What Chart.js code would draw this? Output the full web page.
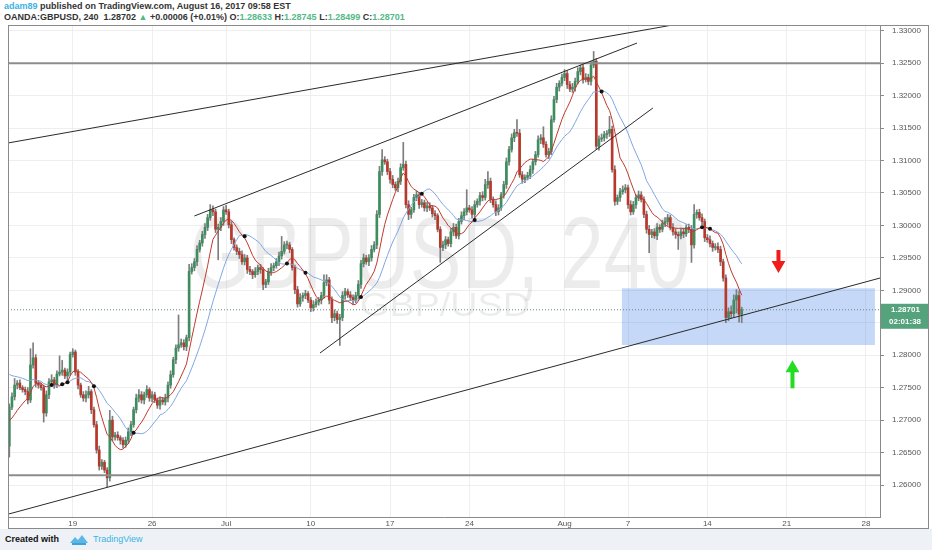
<!DOCTYPE html>
<html>
<head>
<meta charset="utf-8">
<script src="https://cdn.jsdelivr.net/npm/chart.js@4.4.0/dist/chart.umd.min.js"></script>
<style>
  html, body { margin: 0; padding: 0; background: #fff; }
  body { width: 932px; height: 550px; position: relative; overflow: hidden; font-family: "Liberation Sans", Arial, sans-serif; }
  #hdr { position: absolute; left: 4px; top: 1px; font-size: 9px; font-weight: bold; color: #333; line-height: 11px; white-space: nowrap; }
  #hdr .u { color: #3bb3e4; }
  #hdr .g { color: #53b987; }
  #foot { position: absolute; left: 0; top: 529px; width: 932px; height: 21px; background: #eef2f6; }
  #foot .t { position: absolute; left: 5px; top: 5px; font-size: 9px; font-weight: bold; color: #111; }
  #foot .tv { position: absolute; left: 93px; top: 5px; font-size: 9px; color: #3bb3e4; }
  #foot svg { position: absolute; left: 69px; top: 5px; }
  #c { position: absolute; left: 0; top: 0; }
</style>
</head>
<body>
<div id="foot">
  <span class="t">Created with</span>
  <svg width="20" height="11" viewBox="0 0 20 11"><path d="M1 9 L6 3 L9 6 L13 1 L19 9 Z" fill="#5ab7e6"/><path d="M3 10 L17 10" stroke="#3ba3d8" stroke-width="2"/></svg>
  <span class="tv">TradingView</span>
</div>
<div id="hdr">
  <div><span class="u">adam89</span> published on TradingView.com, August 16, 2017 09:58 EST</div>
  <div>OANDA:GBPUSD, 240&nbsp; 1.28702 <span class="g">&#9650;</span> +0.00006 (+0.01%) O:<span class="g">1.28633</span> H:<span class="g">1.28745</span> L:<span class="g">1.28499</span> C:<span class="g">1.28701</span></div>
</div>
<canvas id="c" width="932" height="550"></canvas>
<script>
// GBPUSD 4h candles (close of each bar)
const closes = [
  1.2720,1.2736,1.2754,1.2757,1.2750,1.2747,1.2744,1.2731,1.2785,1.2796,
  1.2757,1.2754,1.2750,1.2711,1.2739,1.2759,1.2762,1.2754,1.2771,1.2774,
  1.2777,1.2768,1.2774,1.2801,1.2805,1.2774,1.2754,1.2739,1.2734,1.2739,
  1.2744,1.2716,1.2693,1.2654,1.2629,1.2635,1.2623,1.2611,1.2700,1.2674,
  1.2677,1.2673,1.2669,1.2662,1.2669,1.2682,1.2693,1.2716,1.2734,1.2739,
  1.2731,1.2739,1.2747,1.2734,1.2739,1.2731,1.2723,1.2731,1.2728,1.2734,
  1.2754,1.2770,1.2793,1.2811,1.2816,1.2819,1.2813,1.2827,1.2929,1.2935,
  1.2944,1.2963,1.2973,1.2986,1.2997,1.3012,1.3024,1.3021,1.2994,1.2997,
  1.3006,1.3024,1.3021,1.3001,1.2978,1.2966,1.2960,1.2955,1.2944,1.2950,
  1.2932,1.2929,1.2924,1.2929,1.2935,1.2932,1.2909,1.2913,1.2929,1.2935,
  1.2938,1.2944,1.2953,1.2960,1.2970,1.2970,1.2963,1.2935,1.2901,1.2879,
  1.2889,1.2892,1.2895,1.2885,1.2873,1.2878,1.2882,1.2885,1.2892,1.2912,
  1.2916,1.2885,1.2858,1.2864,1.2855,1.2858,1.2892,1.2898,1.2893,1.2889,
  1.2885,1.2892,1.2909,1.2941,1.2950,1.2944,1.2950,1.2963,1.2970,1.3017,
  1.3083,1.3101,1.3098,1.3083,1.3071,1.3063,1.3058,1.3068,1.3089,1.3094,
  1.3032,1.3017,1.3024,1.3043,1.3047,1.3032,1.3035,1.3027,1.3030,1.3027,
  1.3018,1.3015,1.2994,1.2966,1.2970,1.2978,1.2972,1.2990,1.2997,1.2984,
  1.3006,1.3015,1.3021,1.3027,1.3024,1.3017,1.3032,1.3037,1.3046,1.3043,
  1.3063,1.3068,1.3040,1.3032,1.3021,1.3027,1.3047,1.3063,1.3098,1.3117,
  1.3135,1.3143,1.3142,1.3078,1.3071,1.3074,1.3077,1.3086,1.3098,1.3109,
  1.3132,1.3135,1.3125,1.3109,1.3114,1.3163,1.3194,1.3213,1.3219,1.3228,
  1.3234,1.3217,1.3210,1.3213,1.3222,1.3237,1.3243,1.3225,1.3228,1.3222,
  1.3247,1.3253,1.3122,1.3133,1.3135,1.3140,1.3142,1.3148,1.3086,1.3037,
  1.3043,1.3052,1.3055,1.3058,1.3032,1.3021,1.3032,1.3043,1.3047,1.3040,
  1.3017,1.2994,1.2986,1.2990,1.2984,1.2997,1.2994,1.3003,1.3006,1.3012,
  1.2997,1.2990,1.2986,1.2984,1.2990,1.2987,1.2997,1.2994,1.2970,1.3017,
  1.3020,1.3012,1.3006,1.2981,1.2978,1.2972,1.2966,1.2967,1.2963,1.2944,
  1.2919,1.2858,1.2867,1.2864,1.2885,1.2892,1.2863,1.2870
];
const firstOpen = 1.2660;
// wick lengths in pips above / below the body
const upWick = [
  5,6,10,4,5,3,4,6,25,23, 5,4,3,4,6,5,8,4,5,25, 15,3,5,4,5,3,4,3,5,6,
  8,3,4,5,6,4,3,4,15,6, 4,5,3,4,5,6,5,4,6,8, 5,4,6,3,5,4,3,5,4,6,
  5,6,4,5,46,6,5,4,11,6, 5,6,4,5,6,5,8,6,4,5, 6,5,7,4,5,3,4,5,6,5,
  4,5,3,6,4,5,3,4,5,6, 4,5,6,23,5,6,4,3,4,5, 6,4,5,3,4,6,5,4,5,12,
  8,4,5,6,4,5,6,5,4,5, 4,5,6,5,6,4,5,6,5,6, 8,16,5,4,5,6,4,5,6,34,
  5,6,4,5,6,4,5,4,6,5, 4,5,3,4,6,5,4,5,6,5, 5,6,5,28,4,5,6,4,5,6,
  8,15,5,4,6,5,4,5,6,5, 6,5,20,6,5,4,5,6,4,5, 6,5,17,4,5,6,5,6,4,5,
  6,4,5,6,5,6,4,5,6,5, 6,15,4,5,6,5,4,20,5,6, 4,5,6,5,4,6,5,4,6,5,
  4,5,6,4,5,6,4,5,6,5, 4,6,5,4,5,6,4,5,6,15, 4,5,6,4,5,6,4,5,6,5,
  4,5,6,9,8,9,7,4
];
const downWick = [
  17,4,5,6,3,4,5,6,4,5, 6,5,4,14,5,6,4,5,4,3, 5,4,6,5,4,5,6,4,5,6,
  5,6,4,5,6,5,4,14,5,6, 5,4,6,5,4,5,6,4,5,6, 5,6,4,5,6,4,5,6,4,5,
  6,5,4,6,5,4,5,6,5,4, 5,6,4,5,6,5,4,6,5,47, 5,6,4,5,6,4,5,6,4,5,
  6,5,6,4,5,6,8,5,4,6, 5,4,6,5,4,6,5,4,6,5, 4,6,5,4,6,5,4,5,6,4,
  5,6,8,5,6,40,5,6,4,5, 6,4,5,6,5,4,6,5,4,6, 5,6,4,5,6,5,4,6,5,4,
  5,8,6,4,5,6,4,5,6,4, 5,6,4,23,5,6,4,5,6,4, 5,4,6,5,4,6,5,4,6,5,
  4,6,5,4,6,5,4,5,6,5, 4,6,5,4,6,5,4,5,6,5, 4,6,5,4,6,5,4,5,6,4,
  5,6,4,5,6,4,5,6,4,5, 6,4,5,6,4,5,6,5,4,6, 5,6,4,5,6,5,4,6,5,4,
  5,6,28,5,4,6,5,4,5,6, 4,5,6,21,5,6,4,5,27,5, 6,4,5,6,4,5,6,4,5,6,
  5,8,5,6,6,20,12,13
];
const lastPriceText = '1.28701';
const countdown = '02:01:38';

// axes (x = bar number)
const xMin = -0.5, xMax = 329.3;
const yMin = 1.25507, yMax = 1.33088;
const xTickIdx = [24, 54, 82, 114, 144, 174, 210, 234, 264, 294, 324];
const xTickLabels = ['19', '26', 'Jul', '10', '17', '24', 'Aug', '7', '14', '21', '28'];
const yTicks = [1.26, 1.265, 1.27, 1.275, 1.28, 1.285, 1.29, 1.295, 1.30, 1.305, 1.31, 1.315, 1.32, 1.325, 1.33];

// simple moving averages; bars before the first one are taken at the level shown there
const fastLen = 10, slowLen = 20;
const fastSeed = 1.2697, slowSeed = 1.2773;

// drawings
const levelLines = [1.3250, 1.2615];
const trendLines = [
  [-0.5, 1.3127, 261.5, 1.33165],
  [70.0, 1.30145, 237.4, 1.3281],
  [117.5, 1.28034, 243.4, 1.31809],
  [-0.5, 1.2555, 329.3, 1.29189]
];
const zoneX = [231.6, 327.4];
const zoneY = [1.28157, 1.2903];
const redArrowX = 290.9, redArrowShaft = [1.2962, 1.2944], redArrowHead = 1.2939;
const greenArrowX = 296.2, greenArrowShaft = [1.2749, 1.2777], greenArrowHead = 1.2780;

const opens = closes.map((c, i) => i === 0 ? firstOpen : closes[i - 1]);
const highs = closes.map((c, i) => Math.max(opens[i], c) + upWick[i] / 10000);
const lows = closes.map((c, i) => Math.min(opens[i], c) - downWick[i] / 10000);

function sma(src, len, seed) {
  return src.map((c, i) => {
    let s = 0;
    for (let k = i - len + 1; k <= i; k++) s += k < 0 ? seed : src[k];
    return s / len;
  });
}
const fast = sma(closes, fastLen, fastSeed);
const slow = sma(closes, slowLen, slowSeed);
const crosses = [];
for (let i = 1; i < closes.length; i++) {
  if ((fast[i] - slow[i]) * (fast[i - 1] - slow[i - 1]) < 0) crosses.push({ x: i, y: (fast[i] + slow[i]) / 2 });
}

const UP = '#3e8d5e', DOWN = '#b8392b';
const isUp = closes.map((c, i) => c >= opens[i]);
const lastClose = closes[closes.length - 1];

const seg = (x0, y0, x1, y1, color, width, order, extra) => Object.assign({
  type: 'line', data: [{ x: x0, y: y0 }, { x: x1, y: y1 }],
  borderColor: color, borderWidth: width, pointRadius: 0, fill: false, order
}, extra || {});

const datasets = [
  seg(zoneX[0], zoneY[1], zoneX[1], zoneY[1], 'rgba(0,0,0,0)', 0, 20, { fill: '+1', backgroundColor: 'rgba(74,134,232,0.32)' }),
  seg(zoneX[0], zoneY[0], zoneX[1], zoneY[0], 'rgba(0,0,0,0)', 0, 20),
  seg(xMin, lastClose, xMax, lastClose, '#5f8f78', 1, 15, { borderDash: [1, 2] }),
  {
    type: 'bar', grouped: false, order: 12, barThickness: 1,
    data: closes.map((c, i) => ({ x: i, y: [lows[i], highs[i]] })),
    backgroundColor: '#7d7d80'
  },
  {
    type: 'bar', grouped: false, order: 11, barThickness: 2, minBarLength: 1,
    data: closes.map((c, i) => ({ x: i, y: [opens[i], c] })),
    backgroundColor: isUp.map(u => u ? UP : DOWN)
  },
  { type: 'line', order: 9, data: slow.map((v, i) => ({ x: i, y: v })), borderColor: '#7fa6e3', borderWidth: 1, pointRadius: 0, fill: false },
  { type: 'line', order: 8, data: fast.map((v, i) => ({ x: i, y: v })), borderColor: '#c0392b', borderWidth: 1, pointRadius: 0, fill: false },
  { type: 'line', order: 7, data: crosses, showLine: false, pointRadius: 2, pointBackgroundColor: '#111', pointBorderWidth: 0 },
  ...levelLines.map(v => seg(xMin, v, xMax, v, '#8c8c8c', 2, 6)),
  ...trendLines.map(t => seg(t[0], t[1], t[2], t[3], '#2a2a2a', 1, 5)),
  seg(redArrowX, redArrowShaft[0], redArrowX, redArrowShaft[1], '#f01c1c', 4, 2, { borderCapStyle: 'butt' }),
  { type: 'line', order: 1, data: [{ x: redArrowX, y: redArrowHead }], showLine: false, pointStyle: 'triangle', pointRotation: 180, pointRadius: 8, pointBackgroundColor: '#f01c1c', pointBorderWidth: 0 },
  seg(greenArrowX, greenArrowShaft[0], greenArrowX, greenArrowShaft[1], '#22dd22', 4, 2, { borderCapStyle: 'butt' }),
  { type: 'line', order: 1, data: [{ x: greenArrowX, y: greenArrowHead }], showLine: false, pointStyle: 'triangle', pointRadius: 8, pointBackgroundColor: '#22dd22', pointBorderWidth: 0 }
];

const watermark = {
  id: 'watermark',
  beforeDatasetsDraw(chart) {
    const ctx = chart.ctx;
    const fit = (txt, size, cx, base, w) => {
      ctx.font = size + 'px "Liberation Sans"';
      const m = ctx.measureText(txt).width;
      ctx.save();
      ctx.translate(cx, base);
      ctx.scale(w / m, 1);
      ctx.textAlign = 'center';
      ctx.textBaseline = 'alphabetic';
      ctx.fillText(txt, 0, 0);
      ctx.restore();
    };
    ctx.save();
    ctx.fillStyle = 'rgba(0,0,0,0.075)';
    fit('GBPUSD, 240', 102, 440, 288, 500);
    fit('GBP/USD', 34, 445, 316, 170);
    ctx.restore();
  }
};

const frame = {
  id: 'frame',
  afterDraw(chart) {
    const ctx = chart.ctx, a = chart.chartArea;
    ctx.save();
    ctx.strokeStyle = '#8a8a8a';
    ctx.lineWidth = 1;
    ctx.strokeRect(a.left + 0.5, a.top + 0.5, 928 - a.left, 528 - a.top);
    // last price tag on the price axis
    const y = chart.scales.y.getPixelForValue(lastClose);
    ctx.fillStyle = '#55a37c';
    ctx.fillRect(a.right + 1, y - 6, 47, 25);
    ctx.fillStyle = '#fff';
    ctx.font = 'bold 8px "Liberation Sans"';
    ctx.textBaseline = 'middle';
    ctx.textAlign = 'left';
    ctx.fillText(lastPriceText, a.right + 11, y);
    ctx.fillText(countdown, a.right + 9, y + 12);
    ctx.restore();
  }
};

new Chart(document.getElementById('c'), {
  type: 'bar',
  data: { datasets },
  plugins: [watermark, frame],
  options: {
    responsive: false,
    animation: false,
    devicePixelRatio: 1,
    layout: { padding: { left: 5, top: 25, right: 4, bottom: 22 } },
    plugins: { legend: { display: false }, tooltip: { enabled: false } },
    scales: {
      x: {
        type: 'linear', min: xMin, max: xMax, offset: false,
        afterFit: s => { s.height = 11; },
        afterBuildTicks: s => { s.ticks = xTickIdx.map(v => ({ value: v })); },
        grid: { color: '#eeeeee', offset: false, drawTicks: false },
        border: { color: '#8a8a8a' },
        ticks: {
          font: { family: 'Liberation Sans', size: 8 }, color: '#555', padding: 2,
          maxRotation: 0, autoSkip: false, callback: (v, i) => xTickLabels[i]
        }
      },
      y: {
        type: 'linear', position: 'right', min: yMin, max: yMax,
        afterFit: s => { s.width = 48; },
        afterBuildTicks: s => { s.ticks = yTicks.map(v => ({ value: v })); },
        grid: { color: '#eeeeee', tickColor: '#8a8a8a', tickLength: 4 },
        border: { color: '#8a8a8a' },
        ticks: {
          font: { family: 'Liberation Sans', size: 8 }, color: '#555', padding: 8,
          autoSkip: false, callback: v => v.toFixed(5)
        }
      }
    }
  }
});
</script>
</body>
</html>
